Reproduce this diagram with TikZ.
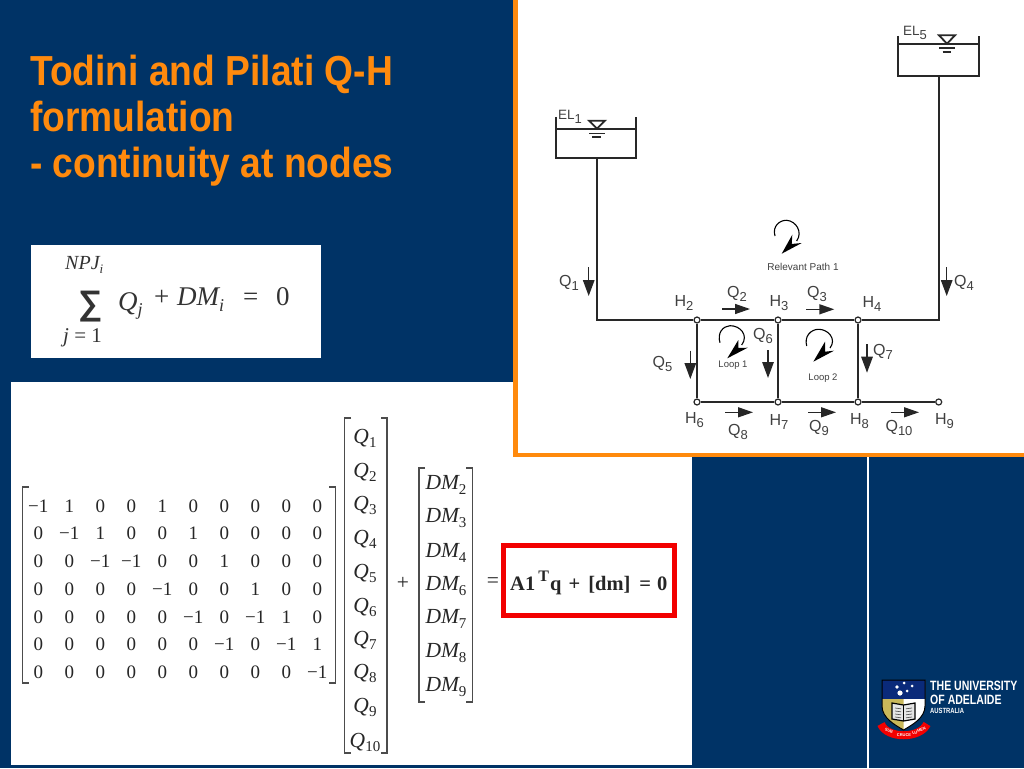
\documentclass[tikz,border=0pt]{standalone}
\usepackage{fontspec}
\usetikzlibrary{arrows.meta}
\setmainfont{Liberation Serif}
\newfontfamily\titlefont[FakeStretch=0.885]{Liberation Sans}
\newfontfamily\logofont[FakeStretch=0.78]{Liberation Sans}
\newfontfamily\netfont{Liberation Sans}
\definecolor{navy}{HTML}{003366}
\definecolor{orangeT}{HTML}{FF8A0D}
\definecolor{inkG}{HTML}{282828}
\definecolor{labG}{HTML}{404040}
\definecolor{logoBlue}{HTML}{0A2A7A}
\definecolor{logoGold}{HTML}{C9B85A}
\newcommand{\fsz}[1]{\fontsize{#1}{#1}\selectfont}
\newcommand{\SUBL}[2]{#1\raisebox{-4pt}{\fsz{13}#2}}
\newcommand{\QV}[1]{{\itshape Q}\raisebox{-4pt}{\fsz{15}#1}}
\newcommand{\DMV}[1]{{\itshape DM}\raisebox{-5pt}{\fsz{15}#1}}
\tikzset{
  pipe/.style={line width=1.9pt,draw=inkG},
  junction/.style={circle,draw=inkG,fill=white,line width=1.2pt,inner sep=0pt,minimum size=6pt},
  flowdown/.style={line width=1.4pt,draw=black!85,-{Triangle[length=16pt,width=11.5pt]}},
  flowright/.style={line width=1.4pt,draw=black!85,-{Triangle[length=15pt,width=10pt]}},
  lab/.style={font=\netfont\fsz{16},text=labG,inner sep=0pt},
  tiny/.style={font=\netfont\fsz{9.5},text=labG,inner sep=0pt},
  entry/.style={font=\fsz{19},text=black!85,inner sep=0pt},
  vec/.style={font=\fsz{21.5},text=black!85,inner sep=0pt},
  brk/.style={line width=1.2pt,draw=black!70},
  form/.style={font=\fsz{27},text=black!80,inner sep=0pt,anchor=base west},
  titletext/.style={font=\titlefont\bfseries\fsz{42},text=orangeT,inner sep=0pt,anchor=base west},
  logotext/.style={text=white,inner sep=0pt,anchor=base west},
  tankline/.style={line width=1.8pt,draw=inkG},
  swirl/.style={line width=1.1pt,draw=black}
}
\begin{document}
\begin{tikzpicture}[x=1pt,y=-1pt]
\useasboundingbox (0,0) rectangle (1024,768);
\fill[navy] (0,0) rectangle (1024,768);
% title
\node[titletext] (t1) at (30,85) {Todini and Pilati Q-H};
\node[titletext] (t2) at (30,131) {formulation};
\node[titletext] (t3) at (30,177) {- continuity at nodes};
% small formula
\fill[white] (31,245) rectangle (321,358);
\node[form,font=\fsz{20}] (f1) at (65,269) {\itshape NPJ\raisebox{-4pt}{\fsz{13}i}};
\node[form,font=\netfont\bfseries\fsz{34}] (f2) at (78,314) {∑};
\node[form] (f3) at (118,310) {\itshape Q\raisebox{-5pt}{\fsz{18}j}};
\node[form] (f4) at (154,305) {+};
\node[form] (f5) at (177,305) {\itshape DM\raisebox{-6pt}{\fsz{18}i}};
\node[form] (f6) at (243,305) {=};
\node[form] (f7) at (276,305) {0};
\node[form,font=\fsz{21}] (f8) at (63,342) {\itshape j\upshape\ = 1};
% matrix panel
\fill[white] (11,382) rectangle (692,765);
\foreach \r/\y/\vals in {
 1/506/{-1,1,0,0,1,0,0,0,0,0},
 2/533.5/{0,-1,1,0,0,1,0,0,0,0},
 3/561/{0,0,-1,-1,0,0,1,0,0,0},
 4/589/{0,0,0,0,-1,0,0,1,0,0},
 5/617/{0,0,0,0,0,-1,0,-1,1,0},
 6/644.5/{0,0,0,0,0,0,-1,0,-1,1},
 7/672/{0,0,0,0,0,0,0,0,0,-1}}{
  \foreach \v [count=\c] in \vals {
    \pgfmathsetmacro{\xx}{38.3+31*(\c-1)}
    \ifnum\v<0\relax
      \node[entry] (m\r-\c) at (\xx,\y) {−1};
    \else
      \node[entry] (m\r-\c) at (\xx,\y) {\v};
    \fi
  }
}
\draw[brk] (29,487) -- (22.5,487) -- (22.5,683) -- (29,683);
\draw[brk] (329,487) -- (335.5,487) -- (335.5,683) -- (329,683);
\foreach \i/\y in {1/438,2/472,3/505,4/539,5/573,6/607,7/640,8/673,9/707}{
  \node[vec] (q\i) at (365,\y) {\QV{\i}};
}
\node[vec] (q10) at (365,742) {\QV{10}};
\draw[brk] (351,418) -- (344.7,418) -- (344.7,753) -- (351,753);
\draw[brk] (381,418) -- (387,418) -- (387,753) -- (381,753);
\node[vec] (plus) at (403,583) {+};
\foreach \i/\n/\y in {1/2/485,2/3/518,3/4/553,4/6/586,5/7/619,6/8/653,7/9/687}{
  \node[vec] (dm\n) at (446,\y) {\DMV{\n}};
}
\draw[brk] (425,468) -- (419,468) -- (419,702) -- (425,702);
\draw[brk] (466,468) -- (472.5,468) -- (472.5,702) -- (466,702);
\node[vec] (eq) at (493,583) {=};
\node[draw=red!95!black,line width=5pt,minimum width=171pt,minimum height=70pt,inner sep=0pt] (res) at (588.5,580.5) {};
\node[font=\fsz{20.5}\bfseries,text=black!85,inner sep=0pt,anchor=base west] (restext) at (510,590) {A1\hspace{3pt}\raisebox{9pt}{\fsz{16}T}\hspace{1.3pt}q\hspace{7pt}+\hspace{8pt}[dm]\hspace{9pt}=\hspace{6pt}0};
% network panel
\fill[white] (515,0) rectangle (1024,454.5);
\draw[orangeT,line width=4.5pt] (515.5,0) -- (515.5,455) -- (1024,455);
\draw[white,line width=1.5pt] (868,457) -- (868,768);
% junctions
\node[junction] (H2) at (697,320) {};
\node[junction] (H3) at (778,320) {};
\node[junction] (H4) at (858,320) {};
\node[junction] (H6) at (697,402) {};
\node[junction] (H7) at (778,402) {};
\node[junction] (H8) at (858,402) {};
\node[junction] (H9) at (938.7,402) {};
\coordinate (c1) at (597,320);
\coordinate (c4) at (939,320);
\coordinate (tb1) at (597,157.7);
\coordinate (tb5) at (939,76);
\draw[pipe] (tb1) -- (c1) -- (H2);
\draw[pipe] (H2) -- (H3);
\draw[pipe] (H3) -- (H4);
\draw[pipe] (H4) -- (c4) -- (tb5);
\draw[pipe] (H2) -- (H6);
\draw[pipe] (H3) -- (H7);
\draw[pipe] (H4) -- (H8);
\draw[pipe] (H6) -- (H7);
\draw[pipe] (H7) -- (H8);
\draw[pipe] (H8) -- (H9);
% tanks
\draw[tankline] (556.3,117) -- (556.3,157.7) -- (636,157.7) -- (636,117);
\draw[tankline] (556.3,128.7) -- (636,128.7);
\draw[tankline,fill=white] (589,120.7) -- (605,120.7) -- (597,128.7) -- cycle;
\draw[tankline] (589,133.5) -- (605,133.5);
\draw[tankline] (592,137) -- (601,137);
\draw[tankline] (898.3,36) -- (898.3,76) -- (979,76) -- (979,36);
\draw[tankline] (898.3,43.7) -- (979,43.7);
\draw[tankline,fill=white] (939,35.3) -- (955,35.3) -- (947,43.7) -- cycle;
\draw[tankline] (939,48.3) -- (955,48.3);
\draw[tankline] (942.7,52) -- (951,52);
\node[lab,font=\netfont\fsz{13.5},text=labG] (el1) at (570,117) {\SUBL{EL}{1}};
\node[lab,font=\netfont\fsz{13.5},text=labG] (el5) at (915,33) {\SUBL{EL}{5}};
% flow arrows
\foreach \n/\x/\a/\b in {1/588.7/267/296,4/946.7/267/296,5/690.3/350.7/379,6/768/350/378,7/867/344/372.7}{
  \coordinate (fa\n) at (\x,\a); \coordinate (fb\n) at (\x,\b);
  \draw[flowdown] (fa\n) -- (fb\n);
}
\foreach \n/\y/\a/\b in {2/309/722.3/750,3/309.3/806/834.3,8/412.3/725/753,9/412.3/808/836,10/412.3/891/919}{
  \coordinate (fa\n) at (\a,\y); \coordinate (fb\n) at (\b,\y);
  \draw[flowright] (fa\n) -- (fb\n);
}
% labels
\foreach \nm/\t/\s/\x/\y in {
 lQ1/Q/1/569/282.5, lQ4/Q/4/964/282.5, lQ2/Q/2/737/294, lQ3/Q/3/817/294,
 lH2/H/2/684/303, lH3/H/3/779/303, lH4/H/4/872/304,
 lQ5/Q/5/662.5/364, lQ6/Q/6/763/336, lQ7/Q/7/883/352,
 lH6/H/6/694.5/420.5, lH7/H/7/779/421.5, lH8/H/8/859.5/421, lH9/H/9/944.5/421,
 lQ8/Q/8/738/432, lQ9/Q/9/819/428, lQ10/Q/10/899/428}{
  \node[lab] (\nm) at (\x,\y) {\SUBL{\t}{\s}};
}
\node[tiny,font=\netfont\fsz{10}] (rp) at (803,266.5) {Relevant Path 1};
\node[tiny] (lp1) at (733,365.5) {Loop 1};
\node[tiny] (lp2) at (823,378) {Loop 2};
% swirls
\draw[swirl] (775,236) .. controls (772,226) and (780,220) .. (786.7,220.3) .. controls (796,221) and (803,232) .. (796.7,241);
\fill[black] (781.7,253.7) -- (792.3,234.7) -- (791.7,244) -- (801.7,243) -- cycle;
\draw[swirl] (720,342.7) .. controls (717,333) and (723,326) .. (730,325.7) .. controls (740,325.5) and (749,335) .. (741.7,345);
\fill[black] (727.3,358.3) -- (738.3,340) -- (738.3,348) -- (747.7,347.7) -- cycle;
\draw[swirl] (806.7,346) .. controls (804,336) and (811,329.5) .. (818.3,329.3) .. controls (828,329) and (837,339) .. (830,348);
\fill[black] (813.3,361.7) -- (825,341.7) -- (825,351.7) -- (834,350.7) -- cycle;
% logo
\path[fill=white] (882,680) -- (925,680) -- (925,706) .. controls (925,718) and (912,725) .. (903.5,730) .. controls (895,725) and (882,718) .. (882,706) -- cycle;
\path[fill=logoGold] (882,699) -- (903.5,699) -- (903.5,730) .. controls (895,725) and (882,718) .. (882,706) -- cycle;
\path[fill=logoBlue] (882,680) rectangle (925,699);
\draw[black,line width=1pt] (882,680) -- (925,680) -- (925,706) .. controls (925,718) and (912,725) .. (903.5,730) .. controls (895,725) and (882,718) .. (882,706) -- cycle;
\foreach \x/\y/\r in {897/687/1.8,904/683/1.5,912/686/1.5,900/693/2.6,907/691/1.5}{
  \fill[white] (\x,\y) circle[radius=\r];
}
\draw[black,fill=white!80!gray,line width=1.2pt] (892,703) -- (903.5,705) -- (915,703) -- (915,719) -- (903.5,721) -- (892,719) -- cycle;
\draw[black,line width=.8pt] (903.5,705) -- (903.5,721);
\foreach \y in {708,711,714,717}{
  \draw[gray!70!black,line width=.7pt] (895,\y) -- (901,\y+.8);
  \draw[gray!70!black,line width=.7pt] (906,\y+.8) -- (912,\y);
}
\draw[red!95!black,line width=8pt] (881,724) .. controls (887,739) and (920,739) .. (927,724);
\node[font=\netfont\bfseries\fsz{4},text=white,inner sep=0pt,rotate=-22] (m1) at (889,731) {SUB};
\node[font=\netfont\bfseries\fsz{4},text=white,inner sep=0pt] (m2) at (904,735) {CRUCE};
\node[font=\netfont\bfseries\fsz{4},text=white,inner sep=0pt,rotate=22] (m3) at (919,731) {LUMEN};
\node[logotext,font=\logofont\bfseries\fsz{13.5}] (u1) at (930,690) {THE UNIVERSITY};
\node[logotext,font=\logofont\bfseries\fsz{13.5}] (u2) at (930,704) {OF ADELAIDE};
\node[logotext,font=\logofont\bfseries\fsz{7.5}] (u3) at (930,713) {AUSTRALIA};
\end{tikzpicture}
\end{document}
